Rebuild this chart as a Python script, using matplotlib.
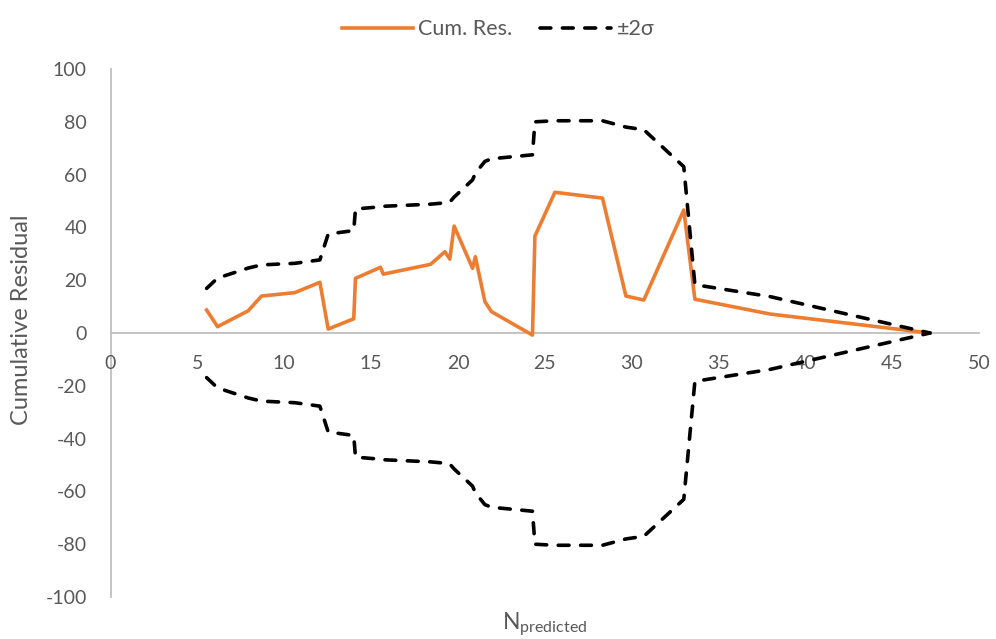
import numpy as np
import matplotlib
matplotlib.use("Agg")
import matplotlib.pyplot as plt

plt.rcParams['font.family'] = ['Lato', 'DejaVu Sans']
plt.rcParams['mathtext.fontset'] = 'custom'
plt.rcParams['mathtext.rm'] = 'Lato'
plt.rcParams['axes.unicode_minus'] = False

# predicted N for each point, cumulative residual and its 2-sigma envelope
n_pred = [5.53, 6.16, 7.92, 8.69, 10.61, 12.05, 12.53, 14.0, 14.1, 15.54, 15.7,
          18.42, 19.25, 19.53, 19.78, 20.84, 21.0, 21.55, 21.93, 24.29, 24.43,
          25.58, 28.32, 29.67, 30.70, 33.0, 33.64, 37.96, 47.17]
cum_res = [8.7, 2.4, 8.4, 14.0, 15.3, 19.2, 1.5, 5.4, 20.7, 24.9, 22.3,
           26.0, 30.8, 28.0, 40.5, 24.5, 28.9, 11.9, 8.1, -0.8, 36.7,
           53.3, 51.1, 14.0, 12.5, 46.6, 12.8, 7.2, 0.0]
two_sigma = [16.9, 20.8, 24.6, 25.8, 26.4, 27.7, 37.5, 38.8, 47.0, 47.8, 48.0,
             48.8, 49.3, 49.6, 51.5, 58.0, 60.5, 65.0, 66.0, 67.5, 80.0,
             80.4, 80.4, 78.0, 77.0, 63.0, 18.3, 13.8, 0.0]

x = np.array(n_pred)
res = np.array(cum_res)
sig = np.array(two_sigma)

fig = plt.figure(figsize=(9.96, 6.39), dpi=100)
ax = fig.add_axes([0.111, 0.0657, 0.872, 0.8263])

orange = '#ED7D31'
grey_txt = '#595959'
axis_col = '#BFBFBF'

l1, = ax.plot(x, res, color=orange, lw=2.6, solid_joinstyle='round',
              label='Cum. Res.', zorder=3)
l2, = ax.plot(x, sig, color='black', lw=2.6, linestyle=(0, (3.0, 3.2)),
              dash_capstyle='round', dash_joinstyle='round', label='±2σ', zorder=4)
ax.plot(x, -sig, color='black', lw=2.6, linestyle=(0, (3.0, 3.2)),
        dash_capstyle='round', dash_joinstyle='round', zorder=4)

ax.set_xlim(0, 50)
ax.set_ylim(-100, 100)
ax.set_xticks(np.arange(0, 51, 5))
ax.set_yticks(np.arange(-100, 101, 20))

for s in ['top', 'right']:
    ax.spines[s].set_visible(False)
ax.spines['bottom'].set_position(('data', 0))
ax.spines['left'].set_position(('data', 0))
for s in ['bottom', 'left']:
    ax.spines[s].set_color(axis_col)
    ax.spines[s].set_linewidth(1.3)
    ax.spines[s].set_zorder(1)

ax.tick_params(axis='x', length=0, pad=16, labelsize=14, labelcolor=grey_txt)
ax.tick_params(axis='y', length=0, pad=17, labelsize=14, labelcolor=grey_txt)

fig.text(0.022, 0.5, 'Cumulative Residual', rotation=90, ha='center', va='center',
         fontsize=17, color=grey_txt)
fig.text(0.547, 0.022, r'N$_{\mathrm{predicted}}$', ha='center', va='center',
         fontsize=16.5, color=grey_txt)

fig.legend(handles=[l1, l2], loc='upper center', bbox_to_anchor=(0.5, 1.0),
           ncol=2, frameon=False, fontsize=15.5, labelcolor=grey_txt,
           handlelength=3.3, columnspacing=1.3, handletextpad=0.25)

fig.savefig('out.png', dpi=100)
